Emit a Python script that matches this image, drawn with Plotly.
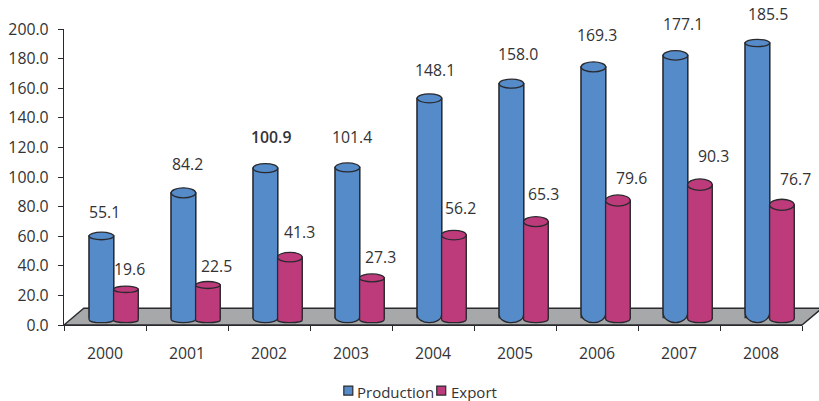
import plotly.graph_objects as go

YEARS = ["2000", "2001", "2002", "2003", "2004", "2005", "2006", "2007", "2008"]
PRODUCTION = [55.1, 84.2, 100.9, 101.4, 148.1, 158.0, 169.3, 177.1, 185.5]
EXPORT = [19.6, 22.5, 41.3, 27.3, 56.2, 65.3, 79.6, 90.3, 76.7]
SERIES_NAMES = ["Production", "Export"]

# --- layout / style (pixels of the 819x401 frame) ---
W, H = 819, 401
PL, PR, PT, PB = 63.5, 802.0, 29.3, 325.0
PXX = (PR - PL) / 9
PXY = (PB - PT) / 200
BLUE, PINK, GREY, INK, TXT = "#558bc9", "#bd3a7b", "#a6a8aa", "#2a2a2e", "#333335"
FONT = "Open Sans"
FS = 15.8
LEG_FS = 15

P_TOP_RY = [3.8, 5, 4.5, 4.5, 4.5, 4.5, 5, 4.7, 3.6]
E_TOP_RY = [3.2, 3.5, 4.8, 4, 4.8, 5, 5.6, 5.7, 5.5]
P_BOT_RY = [3, 3.5, 4.5, 5.5, 8, 8, 9.5, 10, 10.5]
E_BOT_RY = [2.5, 2.5, 2.5, 3, 3, 3.5, 4, 4, 4]

P_LABEL_XY = [(104, 212), (187, 164), (271, 137), (351.7, 137), (434.7, 70.7),
              (518.3, 54.7), (597, 35), (683.3, 24), (768.3, 14.7)]
E_LABEL_XY = [(129.3, 269), (216, 266), (299.3, 232.3), (380.3, 257.3), (460.7, 208.3),
              (543, 194.3), (631, 178.3), (713, 156), (795.3, 179.3)]


def xp(px):
    return (px - PL) / (PR - PL)


def yp(py):
    return (PB - py) / (PB - PT)


BAR_W = 24.6 / PXX
P_OFF = -15.9 / PXX
E_OFF = 8.6 / PXX
P_BASE = (PB - 317.5) / PXY
E_BASE = (PB - 318.3) / PXY
BOTTOM = (PB - 322.7) / PXY

fig = go.Figure()
fig.add_trace(go.Bar(name=SERIES_NAMES[0], x=YEARS, y=PRODUCTION, base=P_BASE, width=BAR_W, offset=P_OFF,
                     marker=dict(color=BLUE, line=dict(color=INK, width=1.3)), showlegend=False))
fig.add_trace(go.Bar(name=SERIES_NAMES[1], x=YEARS, y=EXPORT, base=E_BASE, width=BAR_W, offset=E_OFF,
                     marker=dict(color=PINK, line=dict(color=INK, width=1.3)), showlegend=False))

shapes = []
# floor
floor = (f"M {xp(PL)},{yp(PB)} L {xp(83.3)},{yp(308.3)} L {xp(822)},{yp(308.3)} "
         f"L {xp(PR)},{yp(PB)} Z")
shapes.append(dict(type="path", path=floor, xref="paper", yref="paper", layer="below",
                   fillcolor=GREY, line=dict(color=INK, width=1.4)))


def cylinder(i, value, off, base, color, top_ry, bot_ry):
    xl = i + off
    xr = xl + BAR_W
    xc = (xl + xr) / 2
    top = base + value
    rt = top_ry / PXY
    rb = bot_ry / PXY
    yb = BOTTOM + rb
    k = 0.552
    hw = BAR_W / 2
    path = (f"M {xl},{top} L {xl},{yb} "
            f"C {xl},{yb - k * rb} {xc - k * hw},{BOTTOM} {xc},{BOTTOM} "
            f"C {xc + k * hw},{BOTTOM} {xr},{yb - k * rb} {xr},{yb} L {xr},{top} Z")
    line = dict(color=INK, width=1.3)
    return [
        dict(type="path", path=path, xref="x", yref="y", fillcolor=color, line=line, layer="above"),
        dict(type="circle", xref="x", yref="y", x0=xl, x1=xr, y0=top - rt, y1=top + rt,
             fillcolor=color, line=line, layer="above"),
    ]


for i in range(len(YEARS)):
    shapes += cylinder(i, PRODUCTION[i], P_OFF, P_BASE, BLUE, P_TOP_RY[i], P_BOT_RY[i])
    shapes += cylinder(i, EXPORT[i], E_OFF, E_BASE, PINK, E_TOP_RY[i], E_BOT_RY[i])

annotations = []
for vals, pos in ((PRODUCTION, P_LABEL_XY), (EXPORT, E_LABEL_XY)):
    for v, (px, py) in zip(vals, pos):
        annotations.append(dict(
            text=f"{v:.1f}", x=xp(px), y=yp(py), xref="paper", yref="paper",
            xanchor="center", yanchor="middle", showarrow=False,
            font=dict(family=FONT, size=FS, color=TXT, weight=600 if v == 100.9 else 400)))

# legend, placed to sit tight against its swatches as in the reference
for name, color, sx, tx in ((SERIES_NAMES[0], BLUE, 343.5, 355), (SERIES_NAMES[1], PINK, 436.5, 449)):
    shapes.append(dict(type="rect", xref="paper", yref="paper",
                       x0=xp(sx), x1=xp(sx + 9), y0=yp(386), y1=yp(395),
                       fillcolor=color, line=dict(color=INK, width=1.2)))
    annotations.append(dict(text=name, x=xp(tx), y=yp(391.5), xref="paper", yref="paper",
                            xanchor="left", yanchor="middle", showarrow=False,
                            font=dict(family=FONT, size=LEG_FS, color=TXT)))

fig.update_layout(
    width=W, height=H, autosize=False,
    margin=dict(l=PL, r=W - PR, t=PT, b=H - PB, pad=0),
    paper_bgcolor="white", plot_bgcolor="rgba(0,0,0,0)",
    barmode="overlay", showlegend=False,
    shapes=shapes, annotations=annotations,
    font=dict(family=FONT, size=FS, color=TXT),
    xaxis=dict(type="category", categoryorder="array", categoryarray=YEARS, range=[-0.5, 8.5],
               automargin=False,
               tickson="boundaries", ticks="outside", ticklen=5, tickwidth=1.3, tickcolor=INK,
               showline=True, linecolor=INK, linewidth=1.4, showgrid=False, ticklabelstandoff=14,
               tickfont=dict(family=FONT, size=FS, color=TXT)),
    yaxis=dict(range=[0, 200], dtick=20, tickformat=".1f", ticks="outside", ticklen=5, tickwidth=1.3,
               automargin=False,
               tickcolor=INK, showline=True, linecolor=INK, linewidth=1.4, showgrid=False, zeroline=False,
               ticklabelstandoff=6, tickfont=dict(family=FONT, size=FS, color=TXT)),
)

fig.write_html("out.html", config=dict(displayModeBar=False),
               post_script="document.body.style.margin='0';document.body.style.overflow='hidden';")
